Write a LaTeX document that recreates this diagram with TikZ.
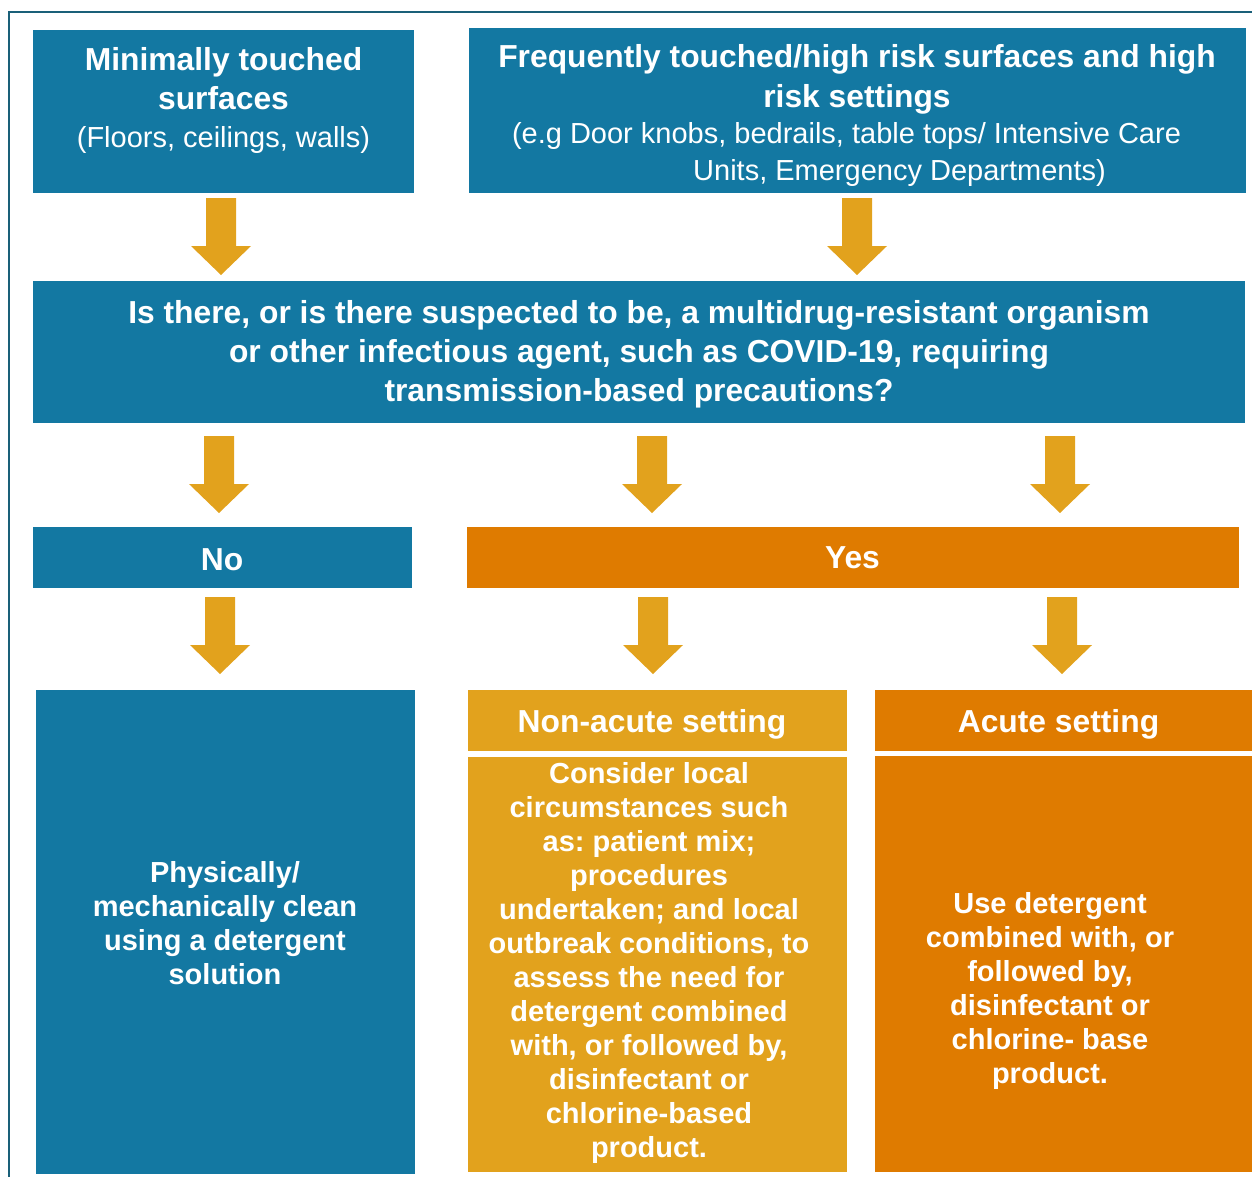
\documentclass[tikz,border=0pt]{standalone}
\usepackage{fontspec}
\setmainfont{Liberation Sans}
\frenchspacing
\definecolor{cblue}{HTML}{1378A2}
\definecolor{cgold}{HTML}{E2A21D}
\definecolor{corange}{HTML}{DF7B00}
\definecolor{cborder}{HTML}{1A6079}
\newcommand\fixsp{\spaceskip=\fontdimen2\font\relax}
\newcommand\fzTitle{\bfseries\fontsize{31.8}{39}\selectfont\fixsp}
\newcommand\fzBody{\bfseries\fontsize{29}{34}\selectfont\fixsp}
\newcommand\fzReg{\mdseries\fontsize{29}{38}\selectfont\fixsp}
\tikzset{
  box/.style={rectangle, inner sep=0pt, outer sep=0pt, anchor=north west, draw=none},
  txt/.style={text=white, inner sep=0pt, anchor=base, align=center},
  bigarrow/.pic={\fill[cgold] (-15,0) -- (15,0) -- (15,48) -- (30,48) -- (0,77) -- (-30,48) -- (-15,48) -- cycle;}
}
\begin{document}
\begin{tikzpicture}[x=1pt,y=-1pt]
\useasboundingbox (0,0) rectangle (1252,1176);
\clip (0,0) rectangle (1252,1176);
% frame
\draw[cborder, line width=2pt] (9,1190) -- (9,12) -- (1262,12);
% boxes
\node[box, fill=cblue, minimum width=381pt, minimum height=163pt] (box1) at (33,30) {};
\node[box, fill=cblue, minimum width=777pt, minimum height=165pt] (box2) at (469,28) {};
\node[box, fill=cblue, minimum width=1212pt, minimum height=142pt] (q) at (33,281) {};
\node[box, fill=cblue, minimum width=379pt, minimum height=61pt] (no) at (33,527) {};
\node[box, fill=corange, minimum width=772pt, minimum height=61pt] (yes) at (467,527) {};
\node[box, fill=cblue, minimum width=379pt, minimum height=484pt] (clean) at (36,690) {};
\node[box, fill=cgold, minimum width=379pt, minimum height=61pt] (nah) at (468,690) {};
\node[box, fill=cgold, minimum width=379pt, minimum height=415pt] (nab) at (468,757) {};
\node[box, fill=corange, minimum width=380pt, minimum height=61pt] (ah) at (875,690) {};
\node[box, fill=corange, minimum width=380pt, minimum height=416pt] (ab) at (875,756) {};
% arrows
\pic (a1) at (221,198) {bigarrow};
\pic (a2) at (857,198) {bigarrow};
\pic (a3) at (219,436) {bigarrow};
\pic (a4) at (652,436) {bigarrow};
\pic (a5) at (1060,436) {bigarrow};
\pic (a6) at (220,597) {bigarrow};
\pic (a7) at (653,597) {bigarrow};
\pic (a8) at (1062,597) {bigarrow};
% texts
\node[txt, text width=375pt, font=\fzTitle] (t1) at (223.5,70) {\fixsp Minimally touched\\surfaces\par{\fzReg (Floors, ceilings, walls)\par}};
\node[txt, text width=770pt, font=\fzTitle] (t2) at (857,67) {{\fontsize{31.8}{40}\selectfont\fixsp Frequently touched/high risk surfaces and high\\risk settings\par}{\fzReg\fontsize{29}{36.5}\selectfont\fixsp \mbox{(e.g Door knobs, bedrails, table tops/ Intensive Care\hspace{21pt}}\\\mbox{\hspace{85pt}Units, Emergency Departments)}\par}};
\node[txt, text width=1200pt, font=\fzTitle] (tq) at (639,323) {\fixsp Is there, or is there suspected to be, a multidrug-resistant organism\\or other infectious agent, such as COVID-19, requiring\\transmission-based precautions?};
\node[txt, font=\fzTitle] (tno) at (222,570) {No};
\node[txt, font=\fzTitle] (tyes) at (852.5,568) {Yes};
\node[txt, font=\fzTitle] (tnah) at (652,732) {Non-acute setting};
\node[txt, font=\fzTitle] (tah) at (1058.5,732) {Acute setting};
\node[txt, text width=375pt, font=\fzBody] (tnab) at (649,783) {\fixsp Consider local\\circumstances such\\as: patient mix;\\procedures\\undertaken; and local\\outbreak conditions, to\\assess the need for\\detergent combined\\with, or followed by,\\disinfectant or\\chlorine-based\\product.};
\node[txt, text width=375pt, font=\fzBody] (tclean) at (225,882) {\fixsp Physically/\\mechanically clean\\using a detergent\\solution};
\node[txt, text width=375pt, font=\fzBody] (tab) at (1050,913) {\fixsp Use detergent\\combined with, or\\followed by,\\disinfectant or\\chlorine- base\\product.};
\end{tikzpicture}
\end{document}
